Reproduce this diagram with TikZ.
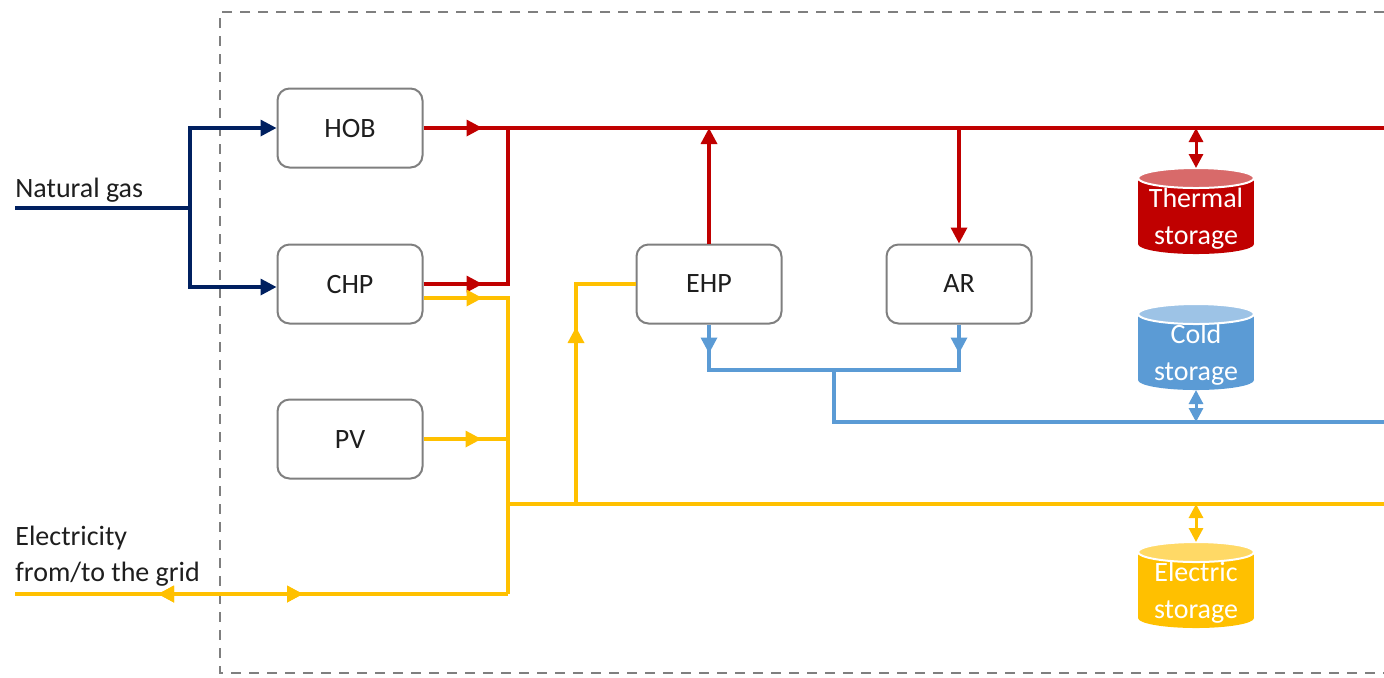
\documentclass[tikz,border=0pt]{standalone}
\usepackage{fontspec}
\setmainfont{Carlito}
\usetikzlibrary{arrows.meta,decorations.markings}

\definecolor{heatred}{HTML}{C00000}
\definecolor{heattop}{HTML}{D86A6A}
\definecolor{coldblue}{HTML}{5B9BD5}
\definecolor{coldtop}{HTML}{9DC3E6}
\definecolor{elecyellow}{HTML}{FFC000}
\definecolor{electop}{HTML}{FFD966}
\definecolor{gasblue}{HTML}{002060}
\definecolor{boxgray}{HTML}{7F7F7F}
\definecolor{txtgray}{HTML}{1E1E1E}

\tikzset{
  unit/.style={draw=boxgray, line width=1pt, rounded corners=6pt,
    minimum width=72.5pt, minimum height=39.5pt, text=txtgray,
    font=\fontsize{14}{17}\selectfont},
  flow/.style={line width=1.7pt},
  tip/.style={-{Triangle[length=8pt,width=8pt]}},
  midtip/.style={postaction={decorate}, decoration={markings,
    mark=at position #1 with {\arrow{Triangle[length=8pt,width=8pt]}}}},
  backtip/.style={postaction={decorate}, decoration={markings,
    mark=at position #1 with {\arrowreversed{Triangle[length=8pt,width=8pt]}}}},
  twoway/.style={line width=1.5pt,
    {Triangle[length=7pt,width=7pt]}-{Triangle[length=7pt,width=7pt]}},
  label/.style={inner sep=0pt, text=txtgray, font=\fontsize{14}{18}\selectfont},
}

% tank: name, x, y of top ellipse, body colour, top colour, text
\newcommand{\tank}[6]{
  \fill[#4] (#2-58,#3) rectangle (#2+58,#3+66);
  \fill[#4] (#2,#3+66) ellipse [x radius=58, y radius=10];
  \filldraw[fill=#5, draw=white, line width=1pt] (#2,#3) ellipse [x radius=58, y radius=10];
  \node[text=white, align=center, font=\fontsize{14}{18.5}\selectfont] (#1) at (#2,#3+41) {#6};
  \coordinate (#1-top) at (#2,#3-10);
  \coordinate (#1-bot) at (#2,#3+76);
}

\begin{document}
\begin{tikzpicture}[x=0.5pt, y=-0.5pt]
  \useasboundingbox (0,0) rectangle (1384,677);

  % system boundary
  \draw[boxgray, line width=0.8pt, dash pattern=on 5pt off 4pt]
    (1384,12) -- (220,12) -- (220,673) -- (1384,673);

  % units
  \node[unit] (hob) at (350,128) {HOB};
  \node[unit] (chp) at (350,284) {CHP};
  \node[unit] (pv) at (350,439) {PV};
  \node[unit] (ehp) at (709,284) {EHP};
  \node[unit] (ar) at (959,284) {AR};

  % storages
  \tank{thermal}{1196}{178}{heatred}{heattop}{Thermal\\storage}
  \tank{cold}{1196}{314}{coldblue}{coldtop}{Cold\\storage}
  \tank{electric}{1196}{552}{elecyellow}{electop}{Electric\\storage}

  % junctions and line ends
  \coordinate (gasin) at (15,208);
  \coordinate (gasj) at (190,208);
  \coordinate (redj) at (508,128);
  \coordinate (redend) at (1384,128);
  \coordinate (ybot) at (508,594);
  \coordinate (ybus) at (508,504);
  \coordinate (yend) at (1384,504);
  \coordinate (yehp) at (576,504);
  \coordinate (gridin) at (15,594);
  \coordinate (bmid) at (834,370);
  \coordinate (bend) at (1384,422);

  % labels
  \node[label, anchor=base west] (gaslbl) at (15,197) {Natural gas};
  \node[label, anchor=west, align=left] (gridlbl) at (15,556) {Electricity\\from/to the grid};

  % natural gas
  \draw[flow, gasblue] (gasin) -- (gasj);
  \draw[flow, gasblue, tip] (gasj) |- (hob.west);
  \draw[flow, gasblue, tip] (gasj) |- ([yshift=-1.5pt]chp.west);

  % heat
  \draw[flow, heatred, midtip=29.5pt] (hob.east) -- (redend);
  \draw[flow, heatred, midtip=29.5pt] (chp.east) -| (redj);
  \draw[flow, heatred, tip] (ehp.north) -- (ehp.north |- redj);
  \draw[flow, heatred, tip] (ar.north |- redj) -- (ar.north);
  \draw[twoway, heatred] (thermal-top |- redj) -- (thermal-top);

  % electricity
  \draw[flow, elecyellow, midtip=29.5pt] ([yshift=-7pt]chp.east) -| (ybot);
  \draw[flow, elecyellow, midtip=29pt] (pv.east) -- (pv.east -| ybot);
  \draw[flow, elecyellow] (ybus) -- (yend);
  \draw[flow, elecyellow, backtip=71.5pt, midtip=144pt] (gridin) -- (ybot);
  \draw[flow, elecyellow, midtip=88.5pt] (yehp) |- (ehp.west);
  \draw[twoway, elecyellow] (electric-top |- ybus) -- (electric-top);

  % cooling
  \draw[flow, coldblue, midtip=14.5pt] (ehp.south) |- (bmid);
  \draw[flow, coldblue, midtip=14.5pt] (ar.south) |- (bmid);
  \draw[flow, coldblue] (bmid) |- (bend);
  \draw[twoway, coldblue] (cold-bot) -- (cold-bot |- bend);
\end{tikzpicture}
\end{document}
